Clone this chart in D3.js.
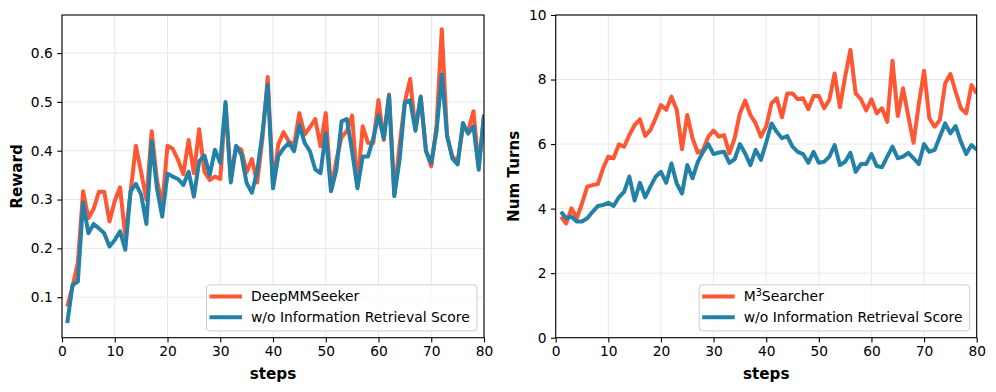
<!DOCTYPE html>
<html>
<head>
<meta charset="utf-8">
<style>
body { margin:0; background:#ffffff; }
svg { font-family:"DejaVu Sans", sans-serif; }
.tick text { font-size:13.8px; fill:#000; }
.tick line { stroke:#000; stroke-width:1.1; }
.grid line { stroke:#e8e8e8; stroke-width:1; }
</style>
<script src="https://cdn.jsdelivr.net/npm/d3@7"></script>
</head>
<body>
<svg id="chart" width="996" height="392"></svg>
<script>

// steps on x axis
var steps = d3.range(1, 81);

// left panel: reward
var rewardFull = [0.081,0.122,0.170,0.317,0.262,0.281,0.316,0.316,0.255,0.297,
	0.325,0.224,0.315,0.410,0.356,0.300,0.440,0.340,0.288,0.410,
	0.404,0.381,0.352,0.422,0.354,0.444,0.357,0.340,0.347,0.342,
	0.494,0.345,0.408,0.402,0.356,0.383,0.335,0.425,0.551,0.328,
	0.413,0.438,0.419,0.412,0.477,0.433,0.448,0.465,0.409,0.477,
	0.320,0.380,0.428,0.440,0.472,0.326,0.450,0.416,0.416,0.504,
	0.422,0.515,0.310,0.412,0.500,0.547,0.443,0.509,0.400,0.368,
	0.450,0.649,0.430,0.388,0.378,0.447,0.440,0.481,0.368,0.474];
var rewardNoIR = [0.047,0.125,0.132,0.294,0.231,0.250,0.241,0.231,0.204,0.217,
	0.235,0.197,0.317,0.332,0.310,0.250,0.419,0.323,0.265,0.353,
	0.347,0.342,0.330,0.357,0.306,0.378,0.390,0.350,0.402,0.375,
	0.500,0.335,0.410,0.392,0.334,0.314,0.358,0.436,0.535,0.323,
	0.389,0.405,0.416,0.399,0.453,0.416,0.399,0.362,0.354,0.436,
	0.317,0.360,0.460,0.465,0.399,0.323,0.388,0.388,0.425,0.473,
	0.425,0.513,0.307,0.382,0.499,0.503,0.441,0.511,0.399,0.375,
	0.440,0.556,0.431,0.384,0.372,0.457,0.435,0.450,0.361,0.474];

// right panel: number of turns
var turnsFull = [3.75,3.54,4.01,3.70,4.16,4.68,4.73,4.76,5.25,5.61,
	5.56,5.99,5.92,6.28,6.59,6.77,6.25,6.44,6.80,7.21,
	7.06,7.47,7.06,5.84,6.90,6.18,5.73,5.82,6.23,6.42,
	6.23,6.28,5.71,6.18,6.95,7.35,6.90,6.64,6.23,6.55,
	7.26,7.42,6.83,7.57,7.57,7.39,7.42,7.08,7.49,7.49,
	7.11,7.37,8.19,7.14,8.09,8.92,7.57,7.39,7.04,7.39,
	6.95,7.11,6.69,8.58,6.87,7.73,6.87,6.04,7.24,8.27,
	6.80,6.54,6.75,7.88,8.17,7.62,7.11,6.95,7.83,7.57];
var turnsNoIR = [3.90,3.70,3.75,3.60,3.60,3.70,3.90,4.08,4.11,4.18,
	4.08,4.35,4.52,4.99,4.25,4.80,4.35,4.68,4.99,5.14,
	4.80,5.40,4.78,4.47,5.35,4.94,5.45,5.76,6.00,5.69,
	5.74,5.76,5.42,5.53,6.00,5.71,5.35,5.82,5.51,6.05,
	6.64,6.38,6.18,6.25,5.92,5.76,5.69,5.42,5.76,5.42,
	5.45,5.61,5.97,5.35,5.45,5.73,5.14,5.38,5.38,5.69,
	5.32,5.28,5.61,5.92,5.56,5.61,5.73,5.56,5.38,6.00,
	5.76,5.82,6.23,6.64,6.33,6.56,6.07,5.69,5.97,5.82];

var xTicks = [0,10,20,30,40,50,60,70,80];
var rewardTicks = [0.1,0.2,0.3,0.4,0.5,0.6];
var turnsTicks = [0,2,4,6,8,10];

var svg = d3.select("#chart");

function panel(opt) {
	var x = d3.scaleLinear().domain([0,80]).range([opt.left, opt.right]);
	var y = d3.scaleLinear().domain(opt.yDomain).range([opt.bottom, opt.top]);
	var g = svg.append("g");

	// grid
	g.append("g").classed("grid",true).selectAll("line.v").data(xTicks).enter().append("line")
		.attr("x1",function(d){return x(d);}).attr("x2",function(d){return x(d);})
		.attr("y1",opt.top).attr("y2",opt.bottom);
	g.append("g").classed("grid",true).selectAll("line.h").data(opt.yTicks).enter().append("line")
		.attr("y1",function(d){return y(d);}).attr("y2",function(d){return y(d);})
		.attr("x1",opt.left).attr("x2",opt.right);

	// clip for the lines
	var cid = "clip" + opt.id;
	svg.append("clipPath").attr("id",cid).append("rect")
		.attr("x",opt.left).attr("y",opt.top)
		.attr("width",opt.right-opt.left).attr("height",opt.bottom-opt.top);

	var line = d3.line().x(function(d,i){return x(steps[i]);}).y(function(d){return y(d);});
	opt.series.forEach(function(s) {
		g.append("path").datum(s.values).attr("d",line)
			.attr("clip-path","url(#"+cid+")")
			.attr("fill","none").attr("stroke",s.color).attr("stroke-width",4)
			.attr("stroke-linejoin","round").attr("stroke-linecap","butt");
	});

	// axes
	var xAxis = d3.axisBottom(x).tickValues(xTicks).tickFormat(d3.format("d")).tickSizeInner(4.7).tickSizeOuter(0).tickPadding(4.3);
	var yAxis = d3.axisLeft(y).tickValues(opt.yTicks).tickFormat(opt.fmt).tickSizeInner(4.7).tickSizeOuter(0).tickPadding(4.5);
	g.append("g").attr("transform","translate(0,"+opt.bottom+")").call(xAxis).selectAll(".domain").remove();
	g.append("g").attr("transform","translate("+opt.left+",0)").call(yAxis).selectAll(".domain").remove();
	g.selectAll(".tick text").style("font-family","DejaVu Sans").style("font-size","13.8px");

	// frame
	g.append("rect").attr("x",opt.left).attr("y",opt.top)
		.attr("width",opt.right-opt.left).attr("height",opt.bottom-opt.top)
		.attr("fill","none").attr("stroke","#000").attr("stroke-width",1.1);

	// labels
	g.append("text").text("steps").attr("x",(opt.left+opt.right)/2).attr("y",378.5)
		.attr("text-anchor","middle").style("font-weight","bold").style("font-size","15.2px");
	g.append("text").text(opt.yLabel)
		.attr("transform","translate("+opt.yLabelX+","+((opt.top+opt.bottom)/2)+")rotate(-90)")
		.attr("text-anchor","middle").style("font-weight","bold").style("font-size","15.2px");

	// legend
	var lw = 270.5, lh = 46;
	var lx = opt.right - 7 - lw, ly = opt.bottom - 6.8 - lh;
	var lg = g.append("g");
	lg.append("rect").attr("x",lx).attr("y",ly).attr("width",lw).attr("height",lh)
		.attr("rx",3).attr("fill","#ffffff").attr("fill-opacity",0.8)
		.attr("stroke","#cccccc").attr("stroke-width",1);
	opt.series.forEach(function(s,i) {
		var ry = ly + 11.5 + i*20.8;
		lg.append("line").attr("x1",lx+3).attr("x2",lx+35.5).attr("y1",ry).attr("y2",ry)
			.attr("stroke",s.color).attr("stroke-width",4);
		var t = lg.append("text").attr("x",lx+44.5).attr("y",ry+5).style("font-size","13.9px");
		s.label.forEach(function(p) {
			var ts = t.append("tspan").text(p.t);
			if (p.sup) ts.attr("dy",-5.5).style("font-size","9.7px");
			if (p.after) ts.attr("dy",5.5);
		});
	});
}

panel({id:"a", left:62, right:484, top:15, bottom:337.7, yDomain:[0.017,0.678],
	yTicks:rewardTicks, fmt:d3.format(".1f"), yLabel:"Reward", yLabelX:22,
	series:[{values:rewardFull,color:"#FF5733",label:[{t:"DeepMMSeeker"}]},
		{values:rewardNoIR,color:"#2381A8",label:[{t:"w/o Information Retrieval Score"}]}]});

panel({id:"b", left:555.7, right:976.7, top:15, bottom:337.7, yDomain:[0,10],
	yTicks:turnsTicks, fmt:d3.format("d"), yLabel:"Num Turns", yLabelX:519,
	series:[{values:turnsFull,color:"#FF5733",label:[{t:"M"},{t:"3",sup:true},{t:"Searcher",after:true}]},
		{values:turnsNoIR,color:"#2381A8",label:[{t:"w/o Information Retrieval Score"}]}]});

</script>
</body>
</html>
